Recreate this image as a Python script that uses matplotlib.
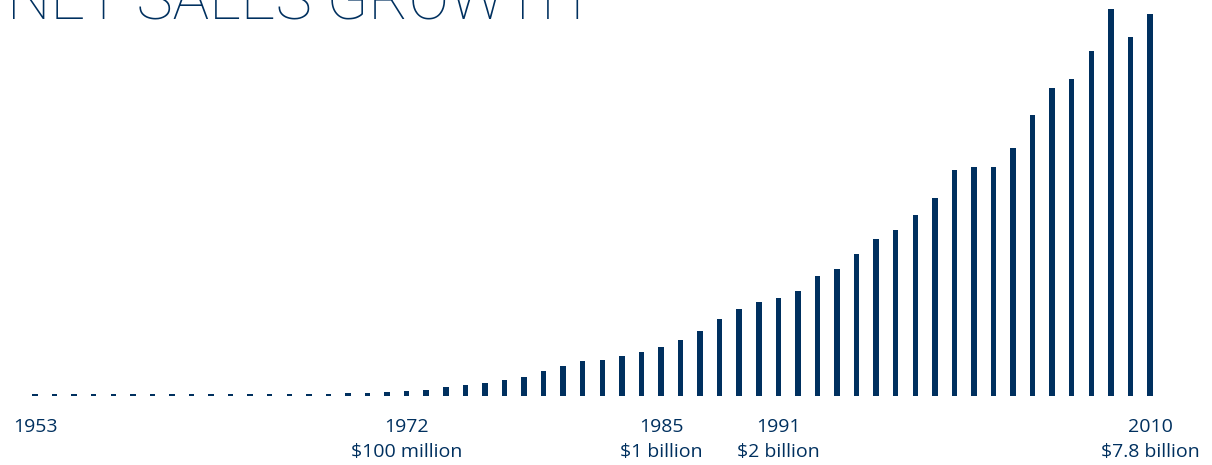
import matplotlib.pyplot as plt

# net sales by year, in billions of dollars
years = list(range(1953, 2011))
sales = [0.035, 0.035, 0.035, 0.035, 0.035, 0.035, 0.035, 0.035, 0.035, 0.035,
         0.035, 0.035, 0.035, 0.047, 0.047, 0.047, 0.06, 0.065, 0.08, 0.10,
         0.13, 0.18, 0.22, 0.27, 0.33, 0.39, 0.51, 0.61, 0.71, 0.73,
         0.82, 0.90, 1.00, 1.14, 1.33, 1.57, 1.78, 1.92, 2.00, 2.14,
         2.45, 2.59, 2.90, 3.20, 3.39, 3.69, 4.04, 4.61, 4.68, 4.68,
         5.06, 5.74, 6.29, 6.47, 7.05, 7.90, 7.33, 7.80]

label_years = [1953, 1972, 1985, 1991, 2010]
label_text = ['1953', '1972\n$100 million', '1985\n$1 billion',
              '1991\n$2 billion', '2010\n$7.8 billion']

navy = '#00305f'

fig = plt.figure(figsize=(12.12, 4.65), dpi=100)
ax = fig.add_axes([0, 69 / 465, 1, 396 / 465])

x = list(range(len(years)))
ax.bar(x, sales, width=0.28, color=navy)

ax.set_xlim(-1.79, 60.17)
ax.set_ylim(0, 8.087)

ticks = [years.index(y) for y in label_years]
ax.set_xticks(ticks)
ax.set_xticklabels(label_text, fontsize=14, color=navy,
                   family=['Open Sans', 'DejaVu Sans'], linespacing=1.52)
ax.tick_params(axis='x', length=0, pad=15.5)
ax.set_yticks([])
for s in ax.spines.values():
    s.set_visible(False)

# big heading running off the top edge
fig.text(0.006, 1 - 20 / 465, 'NET SALES GROWTH', fontsize=44, color=navy,
         family=['Roboto', 'DejaVu Sans'], fontweight='light', va='baseline')

fig.savefig('out.png', dpi=100)
